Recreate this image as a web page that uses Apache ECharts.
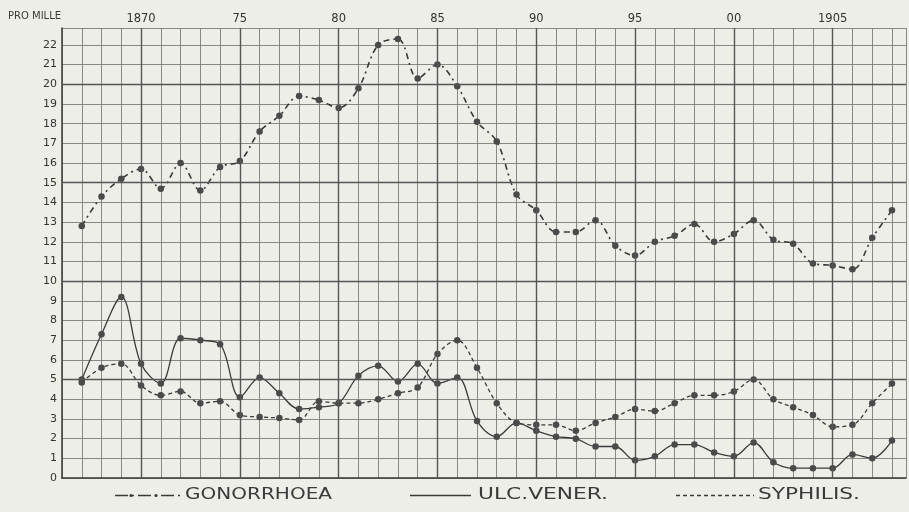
<!DOCTYPE html>
<html>
<head>
<meta charset="utf-8">
<script src="https://cdn.jsdelivr.net/npm/echarts@6/dist/echarts.min.js"></script>
<style>
html,body{margin:0;padding:0;background:#eeeee9;}
#c{width:909px;height:512px;}
</style>
</head>
<body>
<div id="c"></div>
<script>
// ---- data ----
const years = [1867,1868,1869,1870,1871,1872,1873,1874,1875,1876,1877,1878,1879,1880,1881,1882,1883,1884,1885,1886,1887,1888,1889,1890,1891,1892,1893,1894,1895,1896,1897,1898,1899,1900,1901,1902,1903,1904,1905,1906,1907,1908];
const gonorrhoea = [12.8,14.3,15.2,15.7,14.7,16.0,14.6,15.8,16.1,17.6,18.4,19.4,19.2,18.8,19.8,22.0,22.3,20.3,21.0,19.9,18.1,17.1,14.4,13.6,12.5,12.5,13.1,11.8,11.3,12.0,12.3,12.9,12.0,12.4,13.1,12.1,11.9,10.9,10.8,10.6,12.2,13.6];
const ulcVener = [5.0,7.3,9.2,5.8,4.8,7.1,7.0,6.8,4.1,5.1,4.3,3.5,3.6,3.8,5.2,5.7,4.9,5.8,4.8,5.1,2.9,2.1,2.8,2.4,2.1,2.0,1.6,1.6,0.9,1.1,1.7,1.7,1.3,1.1,1.8,0.8,0.5,0.5,0.5,1.2,1.0,1.9];
const syphilis = [4.85,5.6,5.8,4.7,4.2,4.4,3.8,3.9,3.2,3.1,3.05,2.95,3.9,3.8,3.8,4.0,4.3,4.6,6.3,7.0,5.6,3.8,2.8,2.7,2.7,2.4,2.8,3.1,3.5,3.4,3.8,4.2,4.2,4.4,5.0,4.0,3.6,3.2,2.6,2.7,3.8,4.8];
const xTickYears = [1870,1875,1880,1885,1890,1895,1900,1905];
const xTickLabels = ['1870','75','80','85','90','95','00','1905'];
const yMajorLines = [5,10,15,20];
const seriesNames = ['GONORRHOEA','ULC.VENER.','SYPHILIS.'];
const yAxisTitle = 'PRO MILLE';

// ---- chart ----
const ink = '#3a3a3a';
const gridCol = '#7c7c7a';
const chart = echarts.init(document.getElementById('c'), null, {renderer:'canvas'});

function pairs(vals){ return years.map((y,i)=>[y, vals[i]]); }

const labelMap = {};
xTickYears.forEach((y,i)=>labelMap[y]=xTickLabels[i]);

const mctx = document.createElement('canvas').getContext('2d');
const legendFont = '15px "DejaVu Sans"';
mctx.font = legendFont;
function stretchText(txt, x, y, targetW){
  const w = mctx.measureText(txt).width;
  return {type:'text', x:x, y:y, scaleX: targetW/w, scaleY:1,
    style:{text:txt, x:0, y:0, font:legendFont, fill:ink, textAlign:'left', textVerticalAlign:'middle'}, silent:true};
}

const legY = 495.5;
const graphic = [
  {type:'text', x:8, y:16, style:{text:yAxisTitle, x:0, y:0, font:'10px "DejaVu Sans"', fill:ink, textVerticalAlign:'middle'}, silent:true},
  {type:'line', shape:{x1:115,y1:legY,x2:181,y2:legY}, style:{stroke:ink, lineWidth:1.4, lineDash:[13,4,2,4]}, silent:true},
  {type:'circle', shape:{cx:131,cy:legY,r:1.6}, style:{fill:ink}, silent:true},
  {type:'circle', shape:{cx:156,cy:legY,r:1.6}, style:{fill:ink}, silent:true},
  stretchText(seriesNames[0], 185, legY, 147),
  {type:'line', shape:{x1:410,y1:legY,x2:471,y2:legY}, style:{stroke:ink, lineWidth:1.3}, silent:true},
  stretchText(seriesNames[1], 478, legY, 130),
  {type:'line', shape:{x1:676,y1:legY,x2:754,y2:legY}, style:{stroke:ink, lineWidth:1.3, lineDash:[4,3]}, silent:true},
  stretchText(seriesNames[2], 758, legY, 102)
];

const markLines = {
  silent:true, symbol:'none', label:{show:false},
  lineStyle:{color:'#555', width:1.4, type:'solid'},
  emphasis:{disabled:true},
  data: xTickYears.map(v=>({xAxis:v})).concat(yMajorLines.map(v=>({yAxis:v})))
};

const sym = {symbol:'circle', symbolSize:6.5, itemStyle:{color:'#4a4a4a'}};

chart.setOption({
  backgroundColor:'#eeeee9',
  animation:false,
  grid:{left:62, right:0, top:28, bottom:34},
  xAxis:{
    type:'value', position:'top', min:1866, max:1908.71, interval:1,
    axisLine:{show:true, lineStyle:{color:'#3a3a3a', width:1.5}},
    axisTick:{show:false},
    axisLabel:{interval:0, margin:3, color:'#333', fontSize:11.5, fontFamily:'DejaVu Sans',
      formatter:v=> labelMap[Math.round(v)]!==undefined && Math.abs(v-Math.round(v))<1e-6 ? labelMap[Math.round(v)] : ''},
    splitLine:{show:true, lineStyle:{color:gridCol, width:0.9}}
  },
  yAxis:{
    type:'value', min:0, max:22.86, interval:1,
    axisLine:{show:true, lineStyle:{color:'#3a3a3a', width:1.5}},
    axisTick:{show:false},
    axisLabel:{margin:5, color:'#333', fontSize:11, fontFamily:'DejaVu Sans',
      formatter:v=> (Math.abs(v-Math.round(v))<1e-6 && v<=22) ? String(Math.round(v)) : ''},
    splitLine:{show:true, lineStyle:{color:gridCol, width:0.9}}
  },
  graphic: graphic,
  series:[
    Object.assign({name:seriesNames[0], type:'line', data:pairs(gonorrhoea), smooth:0.35,
      lineStyle:{color:ink, width:1.6, type:[6,4,2,4]}, markLine:markLines}, sym),
    Object.assign({name:seriesNames[1], type:'line', data:pairs(ulcVener), smooth:0.35,
      lineStyle:{color:ink, width:1.3, type:'solid'}}, sym),
    Object.assign({name:seriesNames[2], type:'line', data:pairs(syphilis), smooth:0.35,
      lineStyle:{color:ink, width:1.3, type:[4,3]}}, sym)
  ]
});
</script>
</body>
</html>
